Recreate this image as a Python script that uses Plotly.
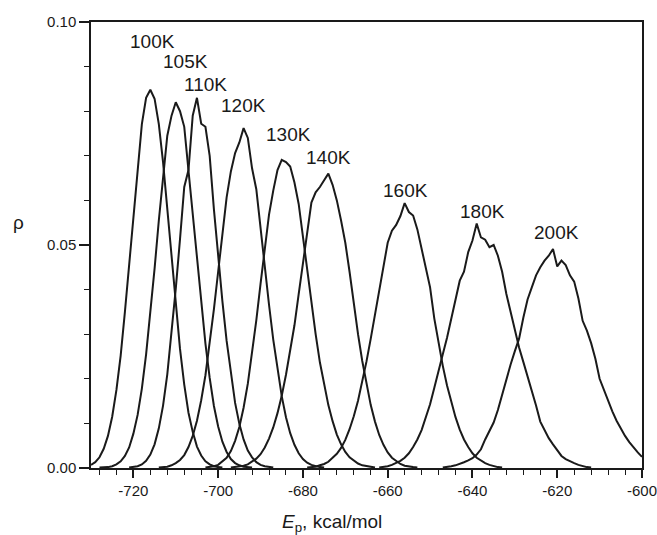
import plotly.graph_objects as go

# Energy distributions rho(Ep) at several temperatures (bins of 1 kcal/mol)
labels = ["100K", "105K", "110K", "120K", "130K", "140K", "160K", "180K", "200K"]

start_100 = -730
rho_100 = [.0007, .0013, .0024, .0043, .0072, .0115, .0175, .0252, .0350, .0459,
           .0572, .0680, .0771, .0830, .0848, .0828, .0771, .0686, .0581, .0470,
           .0362, .0267, .0187, .0124, .0081, .0048, .0028, .0015, .0008, .0004,
           .0002, .0001]

start_105 = -728
rho_105 = [.0001, .0001, .0002, .0004, .0008, .0015, .0027, .0046, .0077, .0119,
           .0178, .0255, .0348, .0447, .0555, .0655, .0745, .0790, .0820, .0800,
           .0765, .0667, .0573, .0471, .0371, .0279, .0202, .0139, .0093, .0059,
           .0036, .0020, .0011, .0006, .0003, .0002, .0001]

start_110 = -721
rho_110 = [.0001, .0002, .0004, .0008, .0016, .0030, .0053, .0089, .0140, .0210,
           .0299, .0402, .0513, .0630, .0668, .0790, .0830, .0772, .0765, .0700,
           .0580, .0469, .0374, .0285, .0209, .0146, .0099, .0064, .0039, .0024,
           .0013, .0007, .0004, .0002, .0001]

start_120 = -714
rho_120 = [.0001, .0002, .0003, .0006, .0011, .0018, .0029, .0047, .0072, .0106,
           .0152, .0208, .0277, .0356, .0440, .0526, .0607, .0665, .0706, .0730,
           .0762, .0740, .0672, .0625, .0534, .0449, .0366, .0288, .0219, .0161,
           .0114, .0078, .0052, .0033, .0020, .0012, .0007, .0004, .0002, .0001]

start_130 = -703
rho_130 = [.0001, .0002, .0004, .0007, .0014, .0023, .0038, .0061, .0092, .0135,
           .0189, .0255, .0331, .0413, .0494, .0568, .0622, .0668, .0691, .0686,
           .0676, .0640, .0592, .0520, .0440, .0370, .0300, .0237, .0186, .0141,
           .0105, .0075, .0053, .0036, .0024, .0016, .0010, .0006, .0004, .0002,
           .0001]

start_140 = -697
rho_140 = [.0001, .0002, .0003, .0005, .0008, .0014, .0021, .0031, .0046, .0066,
           .0091, .0123, .0162, .0209, .0261, .0320, .0390, .0460, .0530, .0595,
           .0618, .0630, .0645, .0660, .0635, .0600, .0555, .0505, .0440, .0365,
           .0300, .0240, .0188, .0141, .0104, .0074, .0052, .0035, .0023, .0015,
           .0009, .0005, .0003, .0002, .0001]

start_160 = -679
rho_160 = [.0001, .0002, .0003, .0006, .0009, .0014, .0022, .0032, .0045, .0063,
           .0087, .0116, .0151, .0192, .0239, .0290, .0344, .0395, .0450, .0505,
           .0532, .0545, .0565, .0594, .0574, .0566, .0535, .0490, .0452, .0405,
           .0335, .0278, .0229, .0185, .0147, .0114, .0086, .0064, .0047, .0033,
           .0023, .0016, .0011, .0007, .0004, .0002, .0001]

start_180 = -662
rho_180 = [.0001, .0002, .0004, .0007, .0011, .0016, .0023, .0033, .0047, .0064,
           .0085, .0112, .0143, .0180, .0220, .0255, .0292, .0335, .0375, .0420,
           .0440, .0484, .0510, .0548, .0517, .0512, .0495, .0500, .0476, .0440,
           .0390, .0348, .0305, .0270, .0238, .0206, .0175, .0140, .0104, .0085,
           .0067, .0053, .0040, .0027, .0020, .0015, .0011, .0007, .0004, .0002,
           .0001]

start_200 = -647
rho_200 = [.0001, .0002, .0004, .0006, .0009, .0013, .0017, .0022, .0030, .0042,
           .0064, .0082, .0102, .0130, .0165, .0200, .0232, .0262, .0290, .0337,
           .0378, .0405, .0432, .0450, .0465, .0476, .0491, .0452, .0465, .0455,
           .0432, .0418, .0380, .0330, .0308, .0280, .0245, .0200, .0175, .0152,
           .0127, .0106, .0088, .0072, .0058, .0046, .0035, .0025]

starts = [start_100, start_105, start_110, start_120, start_130, start_140,
          start_160, start_180, start_200]
series = [rho_100, rho_105, rho_110, rho_120, rho_130, rho_140,
          rho_160, rho_180, rho_200]

# label anchor positions (data coords)
label_x = [-715.4, -707.7, -703.0, -694.0, -683.4, -674.0, -655.7, -637.6, -620.2]
label_y = [0.0956, 0.0911, 0.0859, 0.0813, 0.0748, 0.0697, 0.0622, 0.0576, 0.0527]

x_tickvals = [-720, -700, -680, -660, -640, -620, -600]
x_ticktext = ["-720", "-700", "-680", "-660", "-640", "-620", "-600"]
y_tickvals = [0.0, 0.05, 0.10]
y_ticktext = ["0.00", "0.05", "0.10"]

FONT = "Liberation Sans, Arial, sans-serif"
INK = "#1a1a1a"

fig = go.Figure()
for s, rho, name in zip(starts, series, labels):
    fig.add_trace(go.Scatter(
        x=list(range(s, s + len(rho))), y=rho, mode="lines", name=name,
        line=dict(color=INK, width=2.0), showlegend=False, hoverinfo="skip"))

for lx, ly, name in zip(label_x, label_y, labels):
    fig.add_annotation(x=lx, y=ly, text=name, showarrow=False,
                       font=dict(family=FONT, size=19, color=INK),
                       xanchor="center", yanchor="middle")

fig.add_annotation(xref="paper", yref="paper", x=0.437, y=-0.123,
                   text="<i>E</i><sub>p</sub>, kcal/mol", showarrow=False,
                   font=dict(family=FONT, size=19, color=INK),
                   xanchor="center", yanchor="middle")
fig.add_annotation(xref="paper", yref="paper", x=-0.131, y=0.551,
                   text="ρ", showarrow=False,
                   font=dict(family=FONT, size=19, color=INK),
                   xanchor="center", yanchor="middle")

axis_common = dict(showline=True, linecolor=INK, linewidth=1.5, mirror=True,
                   showgrid=False, zeroline=False, ticks="outside",
                   tickcolor=INK, tickwidth=1.5, ticklabeloverflow="allow",
                   automargin=False,
                   tickfont=dict(family=FONT, size=15, color=INK))

fig.update_xaxes(range=[-730, -600], tickvals=x_tickvals, ticktext=x_ticktext,
                 ticklen=8,
                 minor=dict(dtick=4, tick0=-720, ticks="outside", ticklen=5,
                            tickcolor=INK, tickwidth=1.2),
                 **axis_common)
fig.update_yaxes(range=[0, 0.10], tickvals=y_tickvals, ticktext=y_ticktext,
                 ticklen=10,
                 minor=dict(dtick=0.01, tick0=0, ticks="outside", ticklen=5,
                            tickcolor=INK, tickwidth=1.2),
                 **axis_common)

fig.update_layout(width=657, height=535, margin=dict(l=91, r=15, t=22, b=67),
                  plot_bgcolor="white", paper_bgcolor="white",
                  font=dict(family=FONT, color=INK))

fig.write_html("out.html")
